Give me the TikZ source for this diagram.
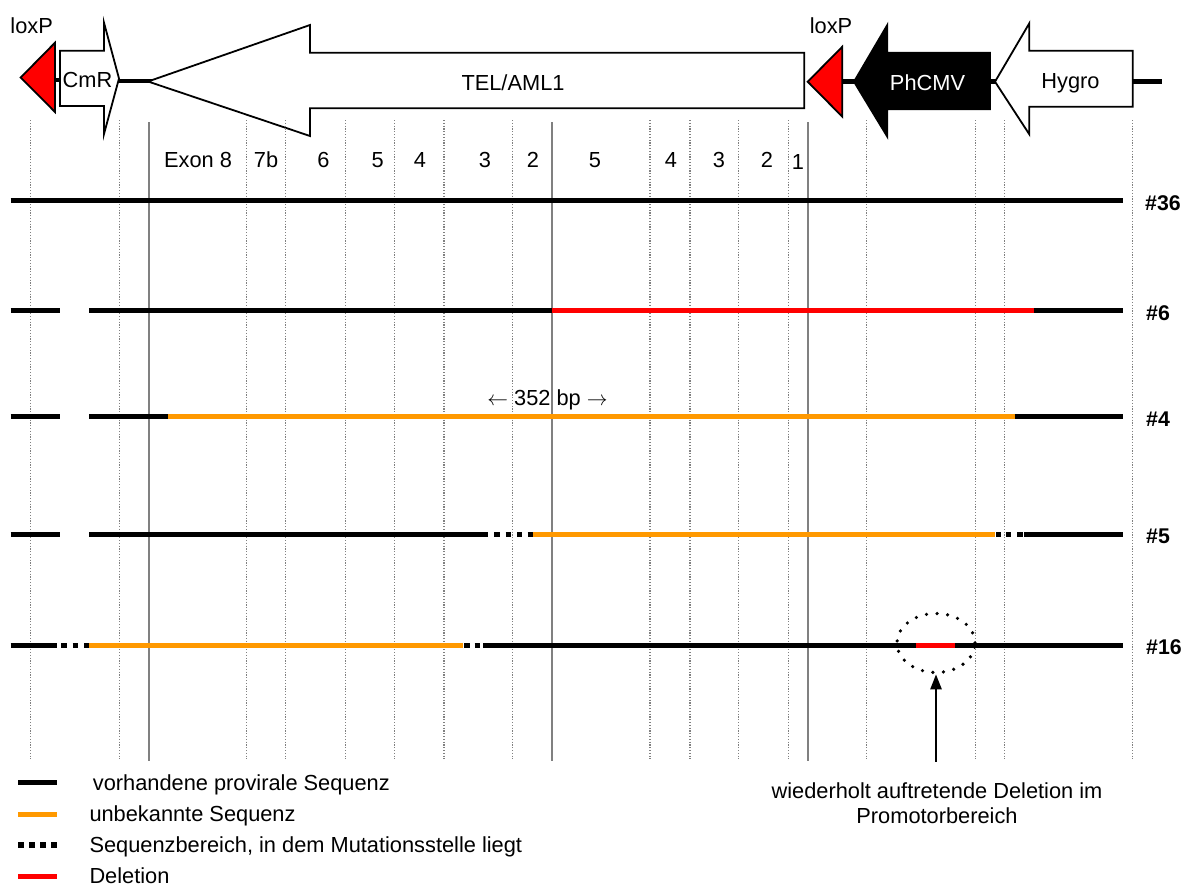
\documentclass[tikz,border=0pt]{standalone}
\usepackage{fontspec}
\setmainfont{Liberation Sans}
\usetikzlibrary{arrows.meta,shapes.geometric}
\definecolor{seqorange}{RGB}{255,153,0}
\definecolor{delred}{RGB}{255,0,0}
\definecolor{gridgray}{RGB}{128,128,128}
\begin{document}
\begin{tikzpicture}[x=1pt,y=-1pt,
  lbl/.style={inner sep=0pt, font=\fontsize{21.8}{25}\selectfont},
  rowlbl/.style={inner sep=0pt, font=\fontsize{21.3}{25}\selectfont\bfseries, anchor=base west},
  blk/.style={line width=5pt, black},
  org/.style={line width=5pt, seqorange},
  delseg/.style={line width=5pt, delred},
  gdot/.style={gridgray, line width=1.2pt, dash pattern=on 1.2pt off 1.6pt},
  gsol/.style={gridgray, line width=2pt},
  bb/.style={line width=4.5pt, black},
  shp/.style={draw=black, line width=1.8pt, line join=miter},
  circdots/.style={draw=black, line width=3.6pt, line cap=round, dash pattern=on 0pt off 10.6pt},
]
\useasboundingbox (0,0) rectangle (1190,886);

% ---------- construct (top) ----------
\draw[bb] (55,80) -- (61,80);
\draw[bb] (118,81) -- (152,81);
\draw[bb] (842,81.7) -- (857,81.7);
\draw[bb] (989,81.7) -- (997,81.7);
\draw[bb] (1132,81.7) -- (1161.7,81.7);

\draw[shp, fill=delred] (20.7,77.5) -- (55,42.7) -- (55,112) -- cycle;
\draw[shp, fill=white] (60,50.7) -- (104,50.7) -- (104,22.7) -- (119,78.5) -- (104,134) -- (104,106) -- (60,106) -- cycle;
\draw[shp, fill=white] (148,81.5) -- (310,25) -- (310,52.7) -- (804.3,52.7) -- (804.3,108.3) -- (310,108.3) -- (310,136) -- cycle;
\draw[shp, fill=delred] (807.7,81.7) -- (842.3,46.7) -- (842.3,116.7) -- cycle;
\draw[shp, fill=black] (854,81.7) -- (887.3,25) -- (887.3,52.7) -- (990,52.7) -- (990,109.3) -- (887.3,109.3) -- (887.3,136.7) -- cycle;
\draw[shp, fill=white] (995,81.7) -- (1029.3,23.3) -- (1029.3,50.7) -- (1132.7,50.7) -- (1132.7,106.7) -- (1029.3,106.7) -- (1029.3,134.3) -- cycle;

\node[lbl, anchor=base] (loxpL) at (31.7,33.3) {loxP};
\node[lbl, anchor=base] (loxpR) at (831,33.3) {loxP};
\node[lbl, anchor=base] (cmr) at (87.5,87.5) {CmR};
\node[lbl, anchor=base] (tel) at (513,90) {TEL/AML1};
\node[lbl, anchor=base, text=white] (phcmv) at (927.5,90) {PhCMV};
\node[lbl, anchor=base] (hygro) at (1070.5,88) {Hygro};

% ---------- grid ----------
\foreach \gx in {30.5,119.3,246.8,285.7,345.3,394.2,444,512.8,650,690,738.6,788.4,866.7,975.3,1004.3,1132.4}
  \draw[gdot] (\gx,120) -- (\gx,759);
\foreach \gx in {148.7,552,808}
  \draw[gsol] (\gx,122) -- (\gx,761);

% ---------- exon labels ----------
\foreach \ex/\et in {198/Exon 8,266/7b,323.5/6,377.6/5,420/4,485/3,533/2,595/5,671/4,719/3,767/2}
  \node[lbl, anchor=base] at (\ex,167) {\et};
\node[lbl, anchor=base] (ex1) at (798,169) {1};

% ---------- rows ----------
% #36
\draw[blk] (10.7,200.3) -- (1122.6,200.3);
\node[rowlbl] (r36) at (1145,210) {\#36};
% #6
\draw[blk] (10.7,310.5) -- (60,310.5);
\draw[blk] (89,310.5) -- (552,310.5);
\draw[delseg] (552,310.5) -- (1034,310.5);
\draw[blk] (1034,310.5) -- (1122.6,310.5);
\node[rowlbl] (r6) at (1146,320.7) {\#6};
% #4
\draw[blk] (10.7,416.5) -- (60,416.5);
\draw[blk] (89,416.5) -- (168.4,416.5);
\draw[org] (168.4,416.5) -- (1014.5,416.5);
\draw[blk] (1014.5,416.5) -- (1122.6,416.5);
\node[lbl, anchor=base] (bp) at (547.5,405) {$\leftarrow$ 352 bp $\rightarrow$};
\node[rowlbl] (r4) at (1146,426.7) {\#4};
% #5
\draw[blk] (10.7,534.3) -- (60,534.3);
\draw[blk] (89,534.3) -- (488,534.3);
\foreach \a/\b in {494/499.5,505.5/511,517/522,527.5/532.7,996/1001,1006/1011,1017/1023}
  \draw[blk] (\a,534.3) -- (\b,534.3);
\draw[org] (532.7,534.3) -- (995,534.3);
\draw[blk] (1024,534.3) -- (1122.6,534.3);
\node[rowlbl] (r5) at (1146,543.3) {\#5};
% #16
\draw[blk] (10.7,645) -- (57,645);
\foreach \a/\b in {61/66.5,72.5/78,84/89,464/469.5,474.5/479.5}
  \draw[blk] (\a,645) -- (\b,645);
\draw[org] (89,645) -- (463,645);
\draw[blk] (483,645) -- (916,645);
\draw[delseg] (916,645) -- (955,645);
\draw[blk] (955,645) -- (1122.6,645);
\node[rowlbl] (r16) at (1146,654) {\#16};

% ---------- deletion marker ----------
\node[ellipse, circdots, minimum width=78pt, minimum height=59pt, inner sep=0pt] (circ) at (936,643) {};
\coordinate (arrstart) at (936,761.5);
\draw[line width=2.5pt, -{Triangle[length=15pt,width=11pt]}] (arrstart) -- (circ.south);
\node[lbl, anchor=base] (cap1) at (937,798.3) {wiederholt auftretende Deletion im};
\node[lbl, anchor=base] (cap2) at (937,823.3) {Promotorbereich};

% ---------- legend ----------
\draw[line width=5.5pt, black] (18.3,782.7) -- (57.3,782.7);
\draw[line width=5.5pt, seqorange] (18.3,814.3) -- (57.3,814.3);
\draw[line width=5.5pt, black, dash pattern=on 5.7pt off 5.3pt] (18.3,845) -- (57.3,845);
\draw[line width=5.5pt, delred] (18.3,876.7) -- (57.3,876.7);
\node[lbl, anchor=base west] (leg1) at (92.7,790) {vorhandene provirale Sequenz};
\node[lbl, anchor=base west] (leg2) at (89.3,821) {unbekannte Sequenz};
\node[lbl, anchor=base west] (leg3) at (89.3,852.7) {Sequenzbereich, in dem Mutationsstelle liegt};
\node[lbl, anchor=base west] (leg4) at (89.3,883.3) {Deletion};
\end{tikzpicture}
\end{document}
